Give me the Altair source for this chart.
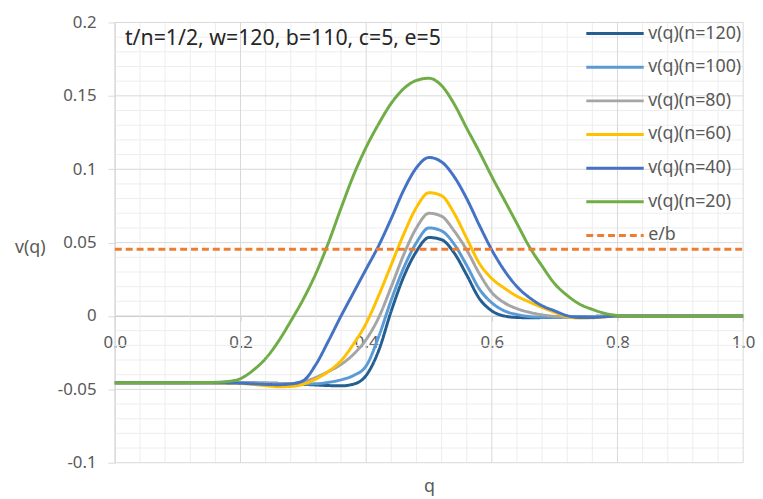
import altair as alt
import pandas as pd

# ---------------- data ----------------
q = [0.0, 0.1, 0.15, 0.18, 0.2, 0.22, 0.24, 0.26, 0.28, 0.3, 0.32, 0.34, 0.36, 0.38,
     0.4, 0.42, 0.44, 0.46, 0.48, 0.5, 0.52, 0.54, 0.56, 0.58, 0.6, 0.62, 0.64, 0.66,
     0.68, 0.7, 0.72, 0.74, 0.76, 0.78, 0.8, 0.85, 0.9, 0.95, 1.0]

v_n120 = [-0.0455, -0.0455, -0.0455, -0.0455, -0.0456, -0.0457, -0.0458, -0.0459, -0.0462,
          -0.0466, -0.0470, -0.0474, -0.0476, -0.0464, -0.0405, -0.0235, 0.0035, 0.0270,
          0.0440, 0.0535, 0.0520, 0.0430, 0.0280, 0.0120, 0.0035, 0.0000, -0.0010, -0.0012,
          -0.0011, -0.0009, -0.0007, -0.0005, -0.0003, -0.0001, 0.0, 0.0, 0.0, 0.0, 0.0]
v_n100 = [-0.0455, -0.0455, -0.0455, -0.0455, -0.0455, -0.0456, -0.0457, -0.0459, -0.0461,
          -0.0463, -0.0462, -0.0452, -0.0435, -0.0405, -0.0340, -0.0140, 0.0110, 0.0330,
          0.0500, 0.0600, 0.0580, 0.0490, 0.0345, 0.0185, 0.0090, 0.0035, 0.0010, -0.0004,
          -0.0008, -0.0008, -0.0007, -0.0005, -0.0003, -0.0001, 0.0, 0.0, 0.0, 0.0, 0.0]
v_n80 = [-0.0455, -0.0455, -0.0455, -0.0455, -0.0456, -0.0458, -0.0460, -0.0462, -0.0460,
         -0.0448, -0.0418, -0.0378, -0.0330, -0.0260, -0.0160, -0.0010, 0.0200, 0.0420,
         0.0600, 0.0700, 0.0680, 0.0580, 0.0450, 0.0290, 0.0160, 0.0090, 0.0050, 0.0025,
         0.0008, -0.0003, -0.0008, -0.0010, -0.0008, -0.0004, 0.0, 0.0, 0.0, 0.0, 0.0]
v_n60 = [-0.0455, -0.0455, -0.0455, -0.0457, -0.0460, -0.0466, -0.0475, -0.0482, -0.0480,
         -0.0465, -0.0430, -0.0378, -0.0305, -0.0190, -0.0050, 0.0140, 0.0350, 0.0560,
         0.0740, 0.0840, 0.0820, 0.0700, 0.0530, 0.0360, 0.0255, 0.0190, 0.0135, 0.0095,
         0.0058, 0.0025, -0.0005, -0.0014, -0.0012, -0.0006, 0.0, 0.0, 0.0, 0.0, 0.0]
v_n40 = [-0.0455, -0.0455, -0.0455, -0.0456, -0.0458, -0.0462, -0.0466, -0.0468, -0.0463,
         -0.0440, -0.0330, -0.0170, 0.0000, 0.0160, 0.0320, 0.0480, 0.0665, 0.0860,
         0.1010, 0.1080, 0.1050, 0.0950, 0.0800, 0.0620, 0.0450, 0.0310, 0.0200, 0.0125,
         0.0070, 0.0035, 0.0002, -0.0010, -0.0010, -0.0005, 0.0, 0.0, 0.0, 0.0, 0.0]
v_n20 = [-0.0455, -0.0455, -0.0453, -0.0446, -0.0427, -0.0370, -0.0290, -0.0175, -0.0035,
         0.0115, 0.0290, 0.0500, 0.0735, 0.0960, 0.1150, 0.1310, 0.1450, 0.1550,
         0.1605, 0.1620, 0.1570, 0.1445, 0.1280, 0.1120, 0.0950, 0.0790, 0.0630, 0.0470,
         0.0340, 0.0220, 0.0140, 0.0080, 0.0045, 0.0018, 0.0004, -0.0004, -0.0003, -0.0001, 0.0]

eb_q = [0.0, 1.0]
eb_v = [5 / 110, 5 / 110]

series_names = ["v(q)(n=120)", "v(q)(n=100)", "v(q)(n=80)", "v(q)(n=60)",
                "v(q)(n=40)", "v(q)(n=20)", "e/b"]
series_colors = ["#255E91", "#5B9BD5", "#A5A5A5", "#FFC000", "#4472C4", "#70AD47", "#ED7D31"]

x_major = [0.0, 0.2, 0.4, 0.6, 0.8, 1.0]
x_minor = [0.04, 0.08, 0.12, 0.16, 0.24, 0.28, 0.32, 0.36, 0.44, 0.48, 0.52, 0.56,
           0.64, 0.68, 0.72, 0.76, 0.84, 0.88, 0.92, 0.96]
y_major = [-0.1, -0.05, 0.0, 0.05, 0.1, 0.15, 0.2]
y_minor = [-0.09, -0.08, -0.07, -0.06, -0.04, -0.03, -0.02, -0.01, 0.01, 0.02, 0.03, 0.04,
           0.06, 0.07, 0.08, 0.09, 0.11, 0.12, 0.13, 0.14, 0.16, 0.17, 0.18, 0.19]

note_text = "t/n=1/2, w=120, b=110, c=5, e=5"
note_q, note_v = 0.016, 0.1885

# ---------------- tables ----------------
rows = []
for name, vals in zip(series_names[:-1], [v_n120, v_n100, v_n80, v_n60, v_n40, v_n20]):
    for qq, vv in zip(q, vals):
        rows.append({"q": qq, "v": vv, "series": name})
for qq, vv in zip(eb_q, eb_v):
    rows.append({"q": qq, "v": vv, "series": "e/b"})
df = pd.DataFrame(rows)

FONT = "Noto Sans"
xs = alt.Scale(domain=[0, 1], nice=False, zero=False)
ys = alt.Scale(domain=[-0.1, 0.2], nice=False, zero=False)

grid_minor_x = alt.Chart(pd.DataFrame({"q": x_minor})).mark_rule(
    color="#EDEDED", strokeWidth=1).encode(x=alt.X("q:Q", scale=xs))
grid_minor_y = alt.Chart(pd.DataFrame({"v": y_minor})).mark_rule(
    color="#EDEDED", strokeWidth=1).encode(y=alt.Y("v:Q", scale=ys))
grid_major_x = alt.Chart(pd.DataFrame({"q": x_major})).mark_rule(
    color="#D9D9D9", strokeWidth=1).encode(x=alt.X("q:Q", scale=xs))
grid_major_y = alt.Chart(pd.DataFrame({"v": y_major})).mark_rule(
    color="#D9D9D9", strokeWidth=1).encode(y=alt.Y("v:Q", scale=ys))

dash_range = [[1, 0]] * 6 + [[7, 4]]

legend_opts = dict(title=None, orient="none", legendX=475, legendY=-5.5,
                   symbolType="stroke", symbolSize=3364, symbolStrokeWidth=3,
                   labelFont=FONT, labelFontSize=18, labelColor="#595959",
                   labelOffset=3, rowPadding=0, clipHeight=33.5, padding=0)

lines = alt.Chart(df).mark_line(strokeWidth=3, interpolate="monotone").encode(
    x=alt.X("q:Q", scale=xs, title="q",
            axis=alt.Axis(values=x_major, format=".1f", grid=False, offset=-148.4,
                          labelFlush=False, labelOverlap=False,
                          domainColor="#BFBFBF", tickColor="#BFBFBF", tickSize=5,
                          labelPadding=14, labelFontSize=17, labelFont=FONT,
                          labelColor="#595959", titleFont=FONT, titleFontSize=18,
                          titleFontWeight="normal", titleColor="#595959",
                          titleBaseline="alphabetic", titleY=177)),
    y=alt.Y("v:Q", scale=ys, title="v(q)",
            axis=alt.Axis(values=y_major, labelExpr="'' + datum.value", grid=False,
                          domainColor="#D9D9D9", tickColor="#D9D9D9", tickSize=7,
                          labelPadding=12, labelFontSize=17, labelFont=FONT,
                          labelColor="#595959", titleFont=FONT, titleFontSize=18,
                          titleFontWeight="normal", titleColor="#595959",
                          titleAngle=0, titleAlign="center", titleBaseline="middle",
                          titleX=-86, titleY=227)),
    color=alt.Color("series:N", scale=alt.Scale(domain=series_names, range=series_colors),
                    legend=alt.Legend(**legend_opts)),
    strokeDash=alt.StrokeDash("series:N",
                              scale=alt.Scale(domain=series_names, range=dash_range),
                              legend=alt.Legend(**legend_opts)),
    order=alt.Order("q:Q"),
)

note = alt.Chart(pd.DataFrame({"q": [note_q], "v": [note_v], "t": [note_text]})).mark_text(
    align="left", baseline="middle", font=FONT, fontSize=21.5, color="#262626").encode(
    x=alt.X("q:Q", scale=xs), y=alt.Y("v:Q", scale=ys), text="t:N")

chart = alt.layer(grid_minor_x, grid_minor_y, grid_major_x, grid_major_y, lines, note).properties(
    width=635, height=445,
    autosize=alt.AutoSizeParams(type="none"),
    padding={"left": 108, "top": 12, "right": 12, "bottom": 34},
).configure_view(stroke=None)

chart.save("out.html", embed_options={"renderer": "svg", "actions": False})
